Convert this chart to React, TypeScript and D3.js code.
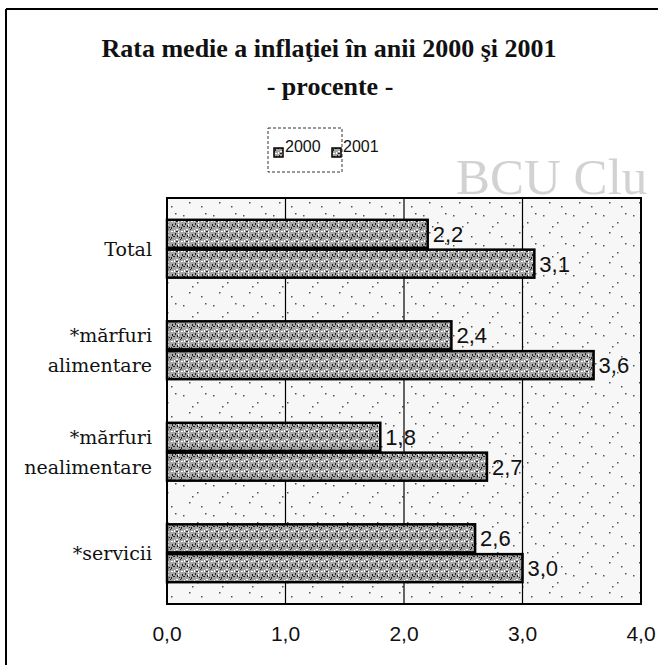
import React from "react";
import * as d3 from "d3";

const categories = ["Total", "*mărfuri alimentare", "*mărfuri nealimentare", "*servicii"];
const categoryLines = [["Total"], ["*mărfuri", "alimentare"], ["*mărfuri", "nealimentare"], ["*servicii"]];
const series = ["2000", "2001"];
const values2000 = [2.2, 2.4, 1.8, 2.6];
const values2001 = [3.1, 3.6, 2.7, 3.0];
const xTicks = [0, 1, 2, 3, 4];
const title = "Rata medie a inflaţiei în anii 2000 şi 2001";
const subtitle = "- procente -";

const fmt = (v: number) => v.toFixed(1).replace(".", ",");

export default function App() {
  const W = 658, H = 665;
  const left = 167, right = 641, top = 198, bottom = 604;
  const x = d3.scaleLinear().domain([0, 4]).range([left, right]);
  const y = d3.scaleBand().domain(categories).range([top, bottom]).paddingInner(0.43).paddingOuter(0.215);
  const yi = d3.scaleBand().domain(series).range([0, y.bandwidth()]).paddingInner(0.06);
  const data = [values2000, values2001];
  const serif = "'Liberation Serif', 'DejaVu Serif', serif";
  const wideSerif = "'DejaVu Serif', 'Liberation Serif', serif";
  const sans = "'Liberation Sans', Arial, sans-serif";

  // deterministic speckle dots for textures
  const barDots: [number, number, number][] = [
    [1, 1, 2], [5, 3, 1], [3, 6, 2], [8, 1, 1], [9, 7, 2], [0, 9, 1], [6, 9, 2], [2, 4, 1], [7, 5, 1], [4, 0, 1],
    [6, 1, 2], [1, 7, 1], [8, 4, 1],
  ];
  const bgDots: [number, number][] = [[3, 5], [17, 12], [9, 22], [25, 3], [21, 26], [12, 16]];

  return (
    <svg width={W} height={H} style={{ position: "absolute", left: 0, top: 0, background: "#fff" }}>
      <defs>
        <pattern id="barTex" width="10" height="10" patternUnits="userSpaceOnUse">
          <rect width="10" height="10" fill="#a6a6a6" />
          {barDots.map(([a, b, s], i) => (
            <rect key={i} x={a} y={b} width={s} height={s === 2 ? 1 : 2} fill={i % 3 === 0 ? "#ffffff" : "#222"} />
          ))}
        </pattern>
        <pattern id="bgTex" width="30" height="30" patternUnits="userSpaceOnUse">
          <rect width="30" height="30" fill="#f7f7f7" />
          {bgDots.map(([a, b], i) => (
            <rect key={i} x={a} y={b} width={1.5} height={1.5} fill="#555" />
          ))}
        </pattern>
      </defs>

      {/* outer frame */}
      <line x1={6} y1={9} x2={W} y2={9} stroke="#000" strokeWidth={2} />
      <line x1={6} y1={9} x2={6} y2={H} stroke="#000" strokeWidth={2} />

      {/* watermark */}
      <text x={456} y={194} fontFamily={serif} fontSize={51} fill="#d2d2d2">BCU Clu</text>

      {/* title */}
      <text x={329} y={57} textAnchor="middle" fontFamily={serif} fontWeight="bold" fontSize={26} fill="#111">
        {title}
      </text>
      <text x={330} y={95} textAnchor="middle" fontFamily={serif} fontWeight="bold" fontSize={26} fill="#111">
        {subtitle}
      </text>

      {/* legend */}
      <rect x={268} y={128} width={74} height={44} fill="#fff" stroke="#333" strokeDasharray="3,2" />
      {series.map((s, i) => (
        <g key={s} transform={`translate(${274 + i * 58},152)`}>
          <rect x={0} y={-4} width={9} height={9} fill="url(#barTex)" stroke="#000" strokeWidth={1.5} />
          <text x={11} y={0} fontFamily={sans} fontSize={16} fill="#111">{s}</text>
        </g>
      ))}

      {/* plot area */}
      <rect x={left} y={top} width={right - left} height={bottom - top} fill="url(#bgTex)" stroke="#000" strokeWidth={2} />
      {xTicks.slice(1, -1).map((t) => (
        <line key={t} x1={x(t)} x2={x(t)} y1={top} y2={bottom} stroke="#000" strokeWidth={1.2} />
      ))}

      {/* bars */}
      {categories.map((c, ci) => (
        <g key={c}>
          {series.map((s, si) => {
            const v = data[si][ci];
            const by = (y(c) as number) + (yi(s) as number);
            return (
              <g key={s}>
                <rect x={x(0)} y={by} width={x(v) - x(0)} height={yi.bandwidth()} fill="url(#barTex)" stroke="#000" strokeWidth={2.5} />
                <text x={x(v) + 5} y={by + yi.bandwidth() / 2 + 8} fontFamily={sans} fontSize={22} fill="#111">
                  {fmt(v)}
                </text>
              </g>
            );
          })}
        </g>
      ))}

      {/* category labels */}
      {categories.map((c, ci) => {
        const lines = categoryLines[ci];
        const cy = (y(c) as number) + y.bandwidth() / 2;
        return (
          <text key={c} textAnchor="end" fontFamily={wideSerif} fontSize={19} fill="#111">
            {lines.map((l, li) => (
              <tspan key={li} x={152} y={cy + 7 + (li - (lines.length - 1) / 2) * 30}>{l}</tspan>
            ))}
          </text>
        );
      })}

      {/* x axis tick labels */}
      {xTicks.map((t) => (
        <text key={t} x={x(t)} y={641} textAnchor="middle" fontFamily={sans} fontSize={21} fill="#111">
          {fmt(t)}
        </text>
      ))}
    </svg>
  );
}
